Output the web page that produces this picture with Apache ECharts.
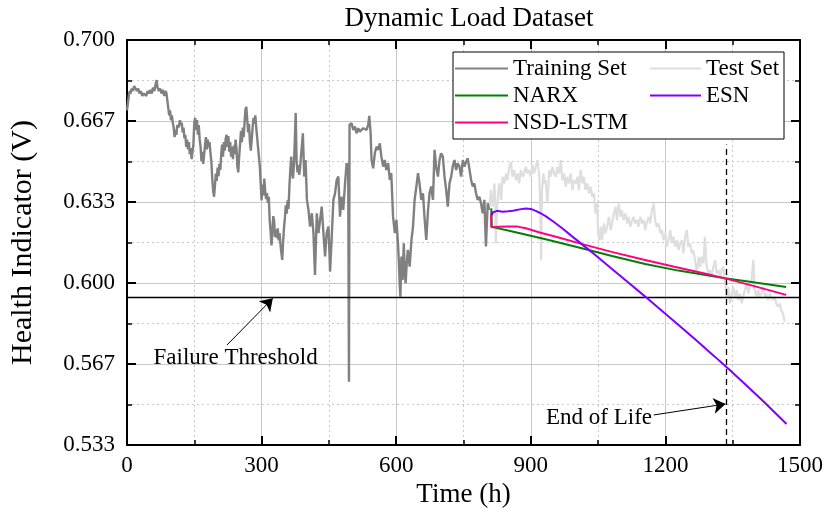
<!DOCTYPE html>
<html><head><meta charset="utf-8">
<script src="https://cdn.jsdelivr.net/npm/echarts@6/dist/echarts.min.js"></script>
<style>html,body{margin:0;padding:0;background:#fff}#c{width:826px;height:526px}</style>
</head><body><div id="c"></div>
<script>
// ---------- data ----------
const titleText = 'Dynamic Load Dataset';
const xName = 'Time (h)';
const yName = 'Health Indicator (V)';
const xMin = 0, xMax = 1500, xStep = 300;
const yMin = 16 / 30, yMax = 21 / 30, yStep = 1 / 30;
const failureThreshold = 0.594;
const endOfLife = 1335;

const trainingSet = [
[0,0.671],[2,0.674],[4,0.677],[6,0.679],[8,0.678],[10,0.680],[13,0.679],[16,0.681],[19,0.6805],[22,0.679],[25,0.680],[28,0.678],[31,0.679],[34,0.677],[37,0.678],[40,0.6785],[43,0.677],[46,0.679],[49,0.678],[52,0.6795],[55,0.678],[58,0.6805],[61,0.679],[64,0.682],[66,0.6835],[68,0.6805],[71,0.679],[74,0.680],[77,0.678],[80,0.6795],[83,0.677],[86,0.679],[88,0.678],[90,0.675],[92,0.672],[94,0.669],[96,0.671],[98,0.667],[100,0.669],[102,0.666],[104,0.664],[106,0.660],[108,0.663],[110,0.661],[112,0.665],[115,0.664],[118,0.667],[120,0.665],[122,0.666],
[124,0.662],[126,0.664],[128,0.6595],[130,0.661],[132,0.656],[134,0.659],[136,0.655],[138,0.658],[140,0.653],[142,0.6555],[144,0.651],[146,0.654],[148,0.657],[150,0.666],[152,0.668],[154,0.663],[156,0.667],[158,0.661],[160,0.665],[162,0.659],[164,0.656],[166,0.650],[168,0.654],[170,0.649],[172,0.653],[174,0.657],[176,0.660],[178,0.655],[180,0.659],[182,0.656],[184,0.658],[186,0.6535],[188,0.650],[190,0.643],[192,0.638],[194,0.6355],[196,0.640],[198,0.645],[200,0.642],[202,0.6475],[204,0.644],[206,0.649],[208,0.6465],[210,0.653],[212,0.657],[214,0.652],[216,0.658],[218,0.6545],[220,0.6595],[222,0.661],[224,0.656],[226,0.6605],[228,0.654],[230,0.658],[232,0.652],[234,0.656],[236,0.651],[238,0.6565],[240,0.653],[242,0.659],[244,0.6555],[246,0.648],[248,0.6455],[250,0.652],[252,0.657],[254,0.6625],[256,0.658],[258,0.664],[260,0.660],[262,0.666],[264,0.6715],[266,0.6725],[268,0.667],[270,0.662],[272,0.6655],[274,0.658],[276,0.6545],[278,0.659],[280,0.664],[282,0.668],[284,0.6655],[286,0.669],[288,0.664],[290,0.660],[292,0.656],[294,0.6555],[296,0.648],[298,0.641],[300,0.634],[302,0.6405],[304,0.636],[306,0.643],[308,0.638],[310,0.6345],[312,0.637],[314,0.633],[316,0.6355],[318,0.626],[320,0.6215],[322,0.6155],[324,0.6205],[326,0.6275],[328,0.6255],[330,0.619],[332,0.622],[334,0.6185],[336,0.6225],[338,0.6175],[340,0.6205],[342,0.616],[344,0.6125],[346,0.6095],[348,0.617],[350,0.623],[352,0.627],[354,0.632],[356,0.6285],[358,0.634],[360,0.6305],[362,0.640],[364,0.6465],[366,0.652],[368,0.6455],[370,0.643],[372,0.6485],[374,0.6585],[376,0.670],[378,0.650],[380,0.6455],[382,0.6485],[384,0.6445],[386,0.6479],
[389,0.6548],[392,0.6616],[395,0.6438],[398,0.6506],[401,0.6342],[404.5,0.6301],[408,0.6232],[412,0.6287],[415.6,0.6205],[419,0.6033],[423,0.6287],[426.7,0.6205],[430.4,0.6260],[434,0.6314],[437.8,0.6205],[441.5,0.6109],[445,0.6205],[449,0.6232],[451,0.6136],[452.6,0.6047],[456,0.6177],[460,0.6342],[463.7,0.6369],[467.4,0.6424],[471,0.6438],[474.8,0.6273],[478.5,0.6355],[482,0.6301],[486,0.6410],[489.5,0.6493],[493,0.6479],[494.7,0.5594],[496,0.6651],[500.6,0.6657],[504.3,0.6630],[508,0.6644],[511.7,0.6616],[515.4,0.6637],[519,0.6623],[522.8,0.6630],[526.5,0.6637],[530,0.6644],[534,0.6630],[537.6,0.6651],[540,0.6688],[543,0.6616],[545,0.6506],[548.7,0.6472],[552.4,0.6534],[556,0.6561],[560,0.6548],[563.5,0.6575],[567,0.6520],[571,0.6479],[574.6,0.6506],[578,0.6465],[582,0.6493],[585.7,0.6424],[589,0.6452],[593,0.6273],[597,0.6205],[600.5,0.6260],[604,0.6163],[606.4,0.6067],[608,0.5985],[609.4,0.5944],[611.6,0.6109],[614,0.6013],[617,0.6163],[619,0.6040],[621,0.5999],[624,0.6095],[626,0.6136],[630,0.6067],[634,0.6177],[637.5,0.6232],[641,0.6342],[645,0.6397],[648.6,0.6452],[652,0.6410],[656,0.6342],[659.7,0.6369],[663,0.6273],[667,0.6177],[671,0.6301],[674.4,0.6369],[678,0.6397],[682,0.6342],[685.5,0.6548],[689,0.6479],[693,0.6438],[696.6,0.6506],[700,0.6534],[704,0.6520],[707.7,0.6438],[711.4,0.6383],[715,0.6314],[718.8,0.6410],[722.5,0.6438],[726,0.6479],[730,0.6506],[733.6,0.6465],[737,0.6493],[741,0.6479],[744.7,0.6438],[748.4,0.6506],[752,0.6479],[755.8,0.6499],[759.5,0.6513],[763,0.6520],[767,0.6424],[770.6,0.6397],[774,0.6410],[778,0.6369],[781.7,0.6342],[785.4,0.6355],[789,0.6328],[792.8,0.6287],[796.5,0.6342],[800,0.6150],[804,0.6328],[807.6,0.6301]
];

const testSet = [
[808,0.6314],[811,0.6382],[815,0.6314],[819,0.6410],[821,0.6314],[822,0.6163],[825,0.6314],[828,0.6382],[830,0.6410],[834,0.6341],[837,0.6437],[841,0.6410],[845,0.6451],[848,0.6423],[852,0.6478],[856,0.6499],[859,0.6437],[863,0.6465],[867,0.6423],[871,0.6451],[874,0.6410],[878,0.6465],[882,0.6437],[885,0.6451],[889,0.6478],[893,0.6451],[896,0.6465],[900,0.6437],[904,0.6485],[907,0.6451],[911,0.6478],[915,0.6506],[919,0.6437],[921,0.6314],[923,0.6094],[925,0.6382],[928,0.6451],[931,0.6410],[933,0.6423],[937,0.6327],[941,0.6465],[944,0.6437],[948,0.6478],[952,0.6451],[956,0.6437],[959,0.6478],[963,0.6451],[967,0.6506],[970,0.6423],[974,0.6451],[978,0.6396],[981,0.6437],[985,0.6410],[989,0.6451],[993,0.6382],[996,0.6423],[1000,0.6410],[1004,0.6437],[1007,0.6382],[1011,0.6465],[1015,0.6410],[1018,0.6437],[1022,0.6382],[1026,0.6410],[1030,0.6368],[1033,0.6396],[1037,0.6355],[1041,0.6368],[1044,0.6286],[1048,0.6327],[1050,0.6204],[1053,0.6176],[1056,0.6231],[1059,0.6176],[1063,0.6245],[1066,0.6204],[1070,0.6231],[1074,0.6272],[1078,0.6218],[1081,0.6245],[1085,0.6286],[1089,0.6314],[1092,0.6259],[1096,0.6327],[1100,0.6272],[1103,0.6300],[1107,0.6259],[1111,0.6286],[1115,0.6245],[1118,0.6272],[1122,0.6231],[1126,0.6259],[1129,0.6272],[1133,0.6245],[1137,0.6259],[1140,0.6231],[1144,0.6272],[1148,0.6245],[1152,0.6259],[1155,0.6218],[1159,0.6252],[1163,0.6272],[1166,0.6245],[1170,0.6300],[1174,0.6327],[1177,0.6259],[1181,0.6231],[1185,0.6245],[1189,0.6204],[1192,0.6218],[1196,0.6176],[1200,0.6204],[1203,0.6149],[1207,0.6176],[1211,0.6218],[1214,0.6163],[1218,0.6190],[1222,0.6149],[1226,0.6176],[1229,0.6135],[1233,0.6163],[1237,0.6176],[1240,0.6122],[1244,0.6190],[1248,0.6218],[1251,0.6149],[1255,0.6163],[1259,0.6122],[1262,0.6135],[1266,0.6094],[1270,0.6039],[1274,0.6108],[1277,0.6067],[1281,0.6108],[1285,0.6080],[1288,0.6190],[1292,0.6067],[1296,0.6039],[1299,0.6053],[1303,0.6025],[1307,0.6067],[1311,0.6094],[1314,0.6039],[1318,0.6053],[1322,0.6025],[1325,0.6053],[1329,0.6067],[1333,0.5998],[1336,0.5943],[1340,0.5984],[1344,0.5916],[1348,0.5957],[1351,0.5984],[1355,0.5943],[1359,0.5971],[1362,0.5930],[1366,0.5957],[1370,0.5916],[1373,0.5943],[1377,0.5971],[1381,0.5998],[1385,0.5957],[1388,0.5984],[1392,0.6012],[1396,0.6094],[1399,0.5971],[1403,0.5943],[1407,0.5971],[1410,0.5943],[1414,0.5957],[1418,0.5984],[1422,0.5943],[1425,0.5957],[1429,0.5930],[1433,0.5957],[1436,0.5943],[1440,0.5930],[1444,0.5943],[1447,0.5916],[1451,0.5902],[1455,0.5916],[1458,0.5888],[1462,0.5875],[1466,0.5840]
];

const narx = [[812,0.6307],[813,0.6231],[859,0.6212],[933,0.6180],[1007,0.6146],[1081,0.6111],[1155,0.6078],[1229,0.6051],[1303,0.6029],[1333,0.6020],[1400,0.6002],[1469,0.5984]];
const nsdLstm = [[811.5,0.6286],[812,0.6229],[830,0.6231],[850,0.6232],[870,0.6232],[889,0.6225],[920,0.6208],[960,0.6188],[1015,0.6160],[1080,0.6128],[1150,0.6097],[1220,0.6067],[1290,0.6038],[1333,0.6019],[1400,0.5986],[1469,0.5951]];
const esn = [[813,0.6279],[815,0.6290],[819,0.6296],[825,0.6297],[837,0.6293],[850,0.6295],[860,0.6297],[875,0.6303],[889,0.6307],[900,0.6305],[911,0.6297],[922,0.6287],[933,0.6275],[950,0.6253],[970,0.6225],[990,0.6195],[1015,0.6158],[1041,0.6119],[1081,0.6058],[1118,0.6001],[1155,0.5944],[1192,0.5886],[1230,0.5826],[1270,0.5762],[1310,0.5697],[1333,0.5659],[1370,0.5597],[1420,0.5510],[1470,0.5420]];

const annotations = [[242,0.5691,'Failure Threshold'],[1052,0.5444,'End of Life']];
const failureArrow = [[223,0.5745],[325,0.5937]];
const eolArrow = [[1174,0.5457],[1334,0.5502]];
const eolTop = 0.657;

const colors = {train:'#808080', test:'#dedede', narx:'#008000', esn:'#8000ff', lstm:'#ff0080'};
// ---------- chart ----------
const FONT = 'Liberation Serif';
const chart = echarts.init(document.getElementById('c'), null, {renderer:'canvas'});
const gridColor = '#c8c8c8';
const baseX = {type:'value', min:xMin, max:xMax, interval:xStep};
const baseY = {type:'value', min:yMin, max:yMax, interval:yStep};
const tickCommon = {
  axisLine:{show:true, onZero:false, lineStyle:{color:'#000', width:2}},
  axisTick:{show:true, inside:true, length:9, lineStyle:{color:'#000', width:2}},
  minorTick:{show:true, splitNumber:2, length:5, lineStyle:{color:'#000', width:1.5}}
};
const legendText = {fontFamily:FONT, fontSize:23, color:'#000', lineHeight:23};
const option = {
  animation:false,
  backgroundColor:'#fff',
  title:{text:titleText, left:464, textAlign:'center', top:0, textStyle:{fontFamily:FONT, fontSize:27, fontWeight:'normal', color:'#000'}},
  grid:{left:126, right:24, top:40, bottom:81},
  legend:[
    {data:['Training Set','NARX','NSD-LSTM'], orient:'vertical', left:453, top:52, icon:'rect',
     padding:[5,156,5,2], itemGap:4, itemWidth:53, itemHeight:2,
     backgroundColor:'#fff', borderColor:'#000', borderWidth:1, textStyle:legendText},
    {data:['Test Set','ESN'], orient:'vertical', left:650, top:52, icon:'rect',
     padding:[5,0,5,0], itemGap:4, itemWidth:51, itemHeight:2, z:10, textStyle:legendText}
  ],
  xAxis:[
    Object.assign({}, baseX, tickCommon, {position:'bottom', name:xName, nameLocation:'middle', nameGap:35,
      nameTextStyle:{fontFamily:FONT, fontSize:27, color:'#000'},
      axisLabel:{fontFamily:FONT, fontSize:23, color:'#000', margin:9, formatter:v=>String(v)},
      splitLine:{show:true, lineStyle:{color:gridColor, width:1}},
      minorSplitLine:{show:true, lineStyle:{color:gridColor, width:1, type:[2,3]}}}),
    Object.assign({}, baseX, tickCommon, {position:'top', axisLabel:{show:false}, splitLine:{show:false}})
  ],
  yAxis:[
    Object.assign({}, baseY, tickCommon, {position:'left', name:yName, nameLocation:'middle', nameGap:89,
      nameTextStyle:{fontFamily:FONT, fontSize:30, color:'#000'},
      axisLabel:{fontFamily:FONT, fontSize:23, color:'#000', margin:12, formatter:v=>v.toFixed(3)},
      splitLine:{show:true, lineStyle:{color:gridColor, width:1}},
      minorSplitLine:{show:true, lineStyle:{color:gridColor, width:1, type:[2,3]}}}),
    Object.assign({}, baseY, tickCommon, {position:'right', axisLabel:{show:false}, splitLine:{show:false}})
  ],
  series:[
    {name:'Test Set', type:'line', data:testSet, symbol:'none', lineStyle:{color:colors.test, width:2.2}, itemStyle:{color:colors.test}, z:2},
    {name:'Training Set', type:'line', data:trainingSet, symbol:'none', lineStyle:{color:colors.train, width:2.4}, itemStyle:{color:colors.train}, z:3,
     markLine:{silent:true, precision:4, symbol:['none','none'], label:{show:false}, animation:false,
       data:[
         {yAxis:failureThreshold, lineStyle:{color:'#000', width:1.3, type:'solid'}},
         [{coord:[endOfLife, yMin], lineStyle:{color:'#000', width:1.3, type:[6,4]}},{coord:[endOfLife, eolTop]}],
         [{coord:failureArrow[0], symbol:'none', lineStyle:{color:'#000', width:1, type:'solid'}},{coord:failureArrow[1], symbol:'arrow', symbolSize:12}],
         [{coord:eolArrow[0], symbol:'none', lineStyle:{color:'#000', width:1, type:'solid'}},{coord:eolArrow[1], symbol:'arrow', symbolSize:12}]
       ]}},
    {name:'NARX', type:'line', data:narx, symbol:'none', lineStyle:{color:colors.narx, width:2}, itemStyle:{color:colors.narx}, z:4},
    {name:'NSD-LSTM', type:'line', data:nsdLstm, symbol:'none', lineStyle:{color:colors.lstm, width:2}, itemStyle:{color:colors.lstm}, z:5},
    {name:'ESN', type:'line', data:esn, symbol:'none', lineStyle:{color:colors.esn, width:2}, itemStyle:{color:colors.esn}, z:6},
    {name:'annotations', type:'scatter', data:annotations, symbolSize:1, itemStyle:{opacity:0}, z:7,
     label:{show:true, position:'inside', formatter:p=>p.data[2], fontFamily:FONT, fontSize:23, color:'#000', opacity:1}}
  ]
};
chart.setOption(option);
</script></body></html>
